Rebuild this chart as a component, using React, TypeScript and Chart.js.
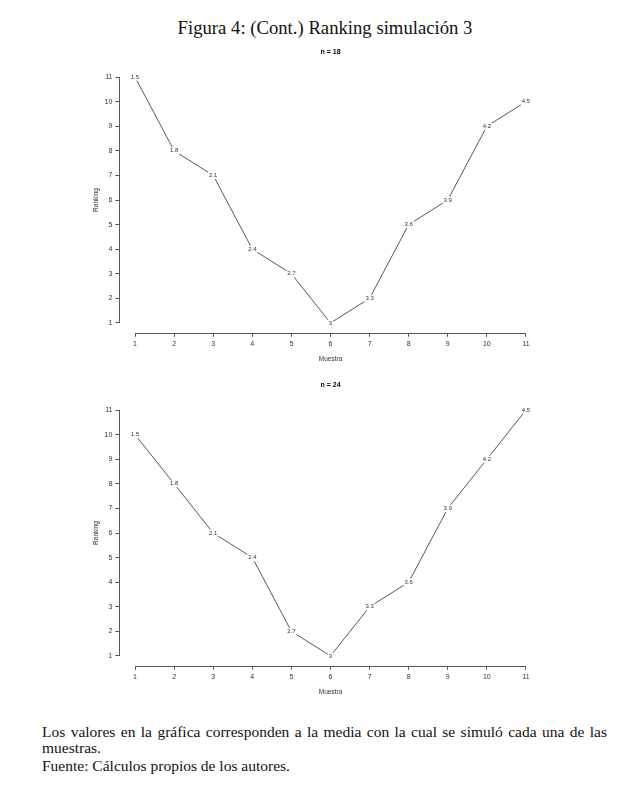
import React, { useEffect, useRef } from "react";
import { Chart, registerables } from "chart.js";

Chart.register(...registerables);

const samples = [1, 2, 3, 4, 5, 6, 7, 8, 9, 10, 11];
const meanLabels = ["1.5", "1.8", "2.1", "2.4", "2.7", "3", "3.3", "3.6", "3.9", "4.2", "4.5"];
const rankingN18 = [11, 8, 7, 4, 3, 1, 2, 5, 6, 9, 10];
const rankingN24 = [10, 8, 6, 5, 2, 1, 3, 4, 7, 9, 11];
const xTicks = [1, 2, 3, 4, 5, 6, 7, 8, 9, 10, 11];
const yTicks = [1, 2, 3, 4, 5, 6, 7, 8, 9, 10, 11];

const SANS = "'Liberation Sans', Arial, sans-serif";
const INK = "#444";

const rAxesPlugin = {
  id: "rAxes",
  afterDraw(chart: any) {
    const { ctx, chartArea, scales } = chart;
    const xs = scales.x;
    const ys = scales.y;
    ctx.save();
    ctx.strokeStyle = "#555";
    ctx.lineWidth = 1;
    ctx.beginPath();
    ctx.moveTo(xs.getPixelForValue(xTicks[0]), Math.round(chartArea.bottom) + 0.5);
    ctx.lineTo(xs.getPixelForValue(xTicks[xTicks.length - 1]), Math.round(chartArea.bottom) + 0.5);
    ctx.moveTo(Math.round(chartArea.left) + 0.5, ys.getPixelForValue(yTicks[0]));
    ctx.lineTo(Math.round(chartArea.left) + 0.5, ys.getPixelForValue(yTicks[yTicks.length - 1]));
    ctx.stroke();
    ctx.restore();
  },
};

const pointTextPlugin = {
  id: "pointText",
  afterDatasetsDraw(chart: any) {
    const { ctx } = chart;
    const meta = chart.getDatasetMeta(0);
    ctx.save();
    ctx.font = `6px ${SANS}`;
    ctx.textAlign = "center";
    ctx.textBaseline = "middle";
    meta.data.forEach((pt: any, i: number) => {
      const txt = meanLabels[i];
      const w = ctx.measureText(txt).width + 2;
      ctx.fillStyle = "#fff";
      ctx.fillRect(pt.x - w / 2, pt.y - 3.5, w, 7);
      ctx.fillStyle = "#333";
      ctx.fillText(txt, pt.x, pt.y);
    });
    ctx.restore();
  },
};

function RankChart({ values, title, top }: { values: number[]; title: string; top: number }) {
  const ref = useRef<HTMLCanvasElement>(null);
  useEffect(() => {
    if (!ref.current) return;
    const chart = new Chart(ref.current, {
      type: "line",
      data: {
        datasets: [
          {
            data: samples.map((s, i) => ({ x: s, y: values[i] })),
            borderColor: INK,
            borderWidth: 0.9,
            pointRadius: 0,
            tension: 0,
            fill: false,
          },
        ],
      },
      plugins: [rAxesPlugin, pointTextPlugin],
      options: {
        animation: false,
        responsive: false,
        maintainAspectRatio: false,
        layout: { padding: { top: 0, right: 38.4, left: 0, bottom: 7.2 } },
        plugins: {
          legend: { display: false },
          tooltip: { enabled: false },
          title: {
            display: true,
            text: title,
            fullSize: false,
            color: "#000",
            font: { family: SANS, size: 7, weight: "bold", lineHeight: 1.2 },
            padding: { top: 7.8, bottom: 11 },
          },
        },
        scales: {
          x: {
            type: "linear",
            min: 0.6,
            max: 11.4,
            afterFit(scale: any) {
              scale.height = 40;
            },
            afterBuildTicks(scale: any) {
              scale.ticks = xTicks.map((v) => ({ value: v }));
            },
            border: { display: false },
            grid: { drawOnChartArea: false, drawTicks: true, tickLength: 4, color: "#555" },
            ticks: {
              autoSkip: false,
              maxRotation: 0,
              padding: 3,
              color: "#333",
              font: { family: SANS, size: 7 },
              callback: (v: any) => String(v),
            },
            title: {
              display: true,
              text: "Muestra",
              color: "#333",
              font: { family: SANS, size: 6.5, lineHeight: 1.2 },
              padding: { top: 0, bottom: 9.5 },
            },
          },
          y: {
            type: "linear",
            min: 0.6,
            max: 11.4,
            afterFit(scale: any) {
              scale.width = 59.4;
            },
            afterBuildTicks(scale: any) {
              scale.ticks = yTicks.map((v) => ({ value: v }));
            },
            border: { display: false },
            grid: { drawOnChartArea: false, drawTicks: true, tickLength: 4, color: "#555" },
            ticks: {
              autoSkip: false,
              padding: 3,
              color: "#333",
              font: { family: SANS, size: 7 },
              callback: (v: any) => String(v),
            },
            title: {
              display: true,
              text: "Ranking",
              color: "#333",
              font: { family: SANS, size: 6.5, lineHeight: 1.2 },
              padding: { top: 32.4, bottom: 0 },
            },
          },
        },
      } as any,
    });
    return () => chart.destroy();
  }, [values, title]);
  return (
    <canvas
      ref={ref}
      width={520}
      height={340}
      style={{ position: "absolute", left: 60, top, width: 520, height: 340 }}
    />
  );
}

const SERIF = "'Liberation Serif', 'DejaVu Serif', serif";

export default function App() {
  return (
    <div
      style={{
        position: "absolute",
        left: 0,
        top: 0,
        width: 644,
        height: 795,
        background: "#fff",
        overflow: "hidden",
        fontFamily: SERIF,
        color: "#111",
      }}
    >
      <div
        style={{
          position: "absolute",
          left: 0,
          width: 650,
          top: 17,
          lineHeight: "22px",
          fontSize: 18.7,
          textAlign: "center",
        }}
      >
        Figura 4: (Cont.) Ranking simulación 3
      </div>
      <RankChart values={rankingN18} title="n = 18" top={40} />
      <RankChart values={rankingN24} title="n = 24" top={373} />
      <div
        style={{
          position: "absolute",
          left: 42,
          width: 565,
          top: 724,
          fontSize: 15.5,
          lineHeight: "16px",
          whiteSpace: "nowrap",
          textAlign: "justify",
          textAlignLast: "justify",
        }}
      >
        Los valores en la gráfica corresponden a la media con la cual se simuló cada una de las
      </div>
      <div style={{ position: "absolute", left: 42, top: 740, fontSize: 15.5, lineHeight: "16px" }}>
        muestras.
      </div>
      <div style={{ position: "absolute", left: 42, top: 758, fontSize: 15.5, lineHeight: "16px" }}>
        Fuente: Cálculos propios de los autores.
      </div>
    </div>
  );
}
